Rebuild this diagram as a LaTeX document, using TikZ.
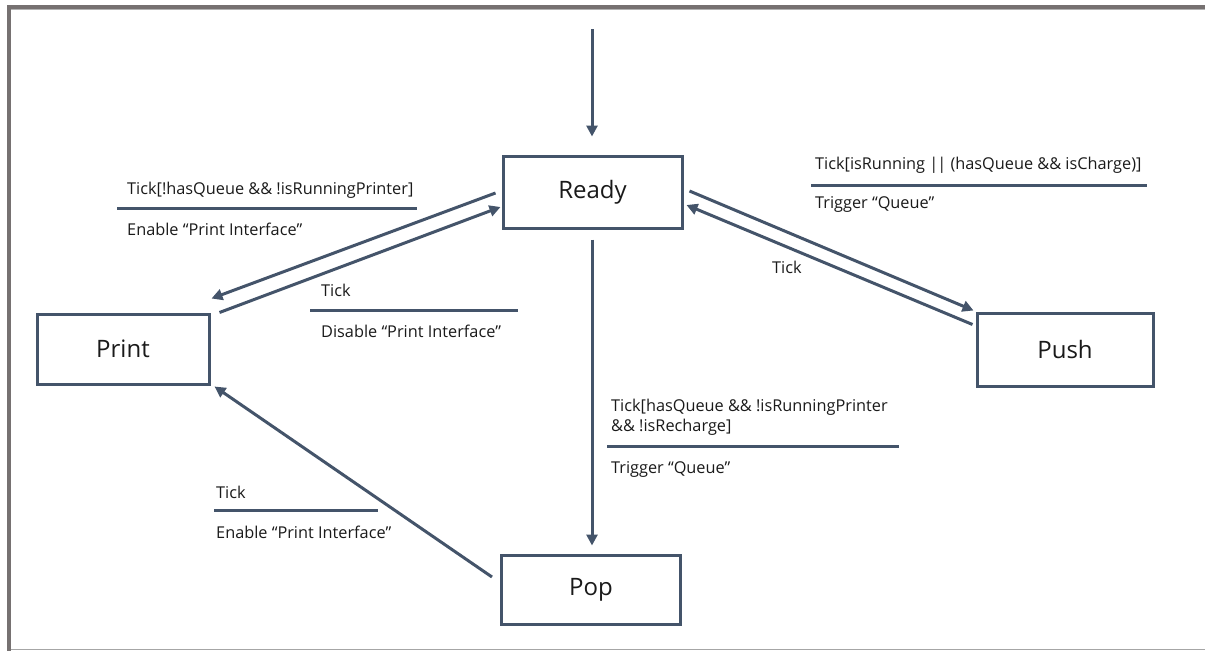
\documentclass[tikz,border=0pt]{standalone}
\usepackage{fontspec}
\setmainfont{Open Sans}
\usetikzlibrary{arrows.meta,calc}
\definecolor{edgec}{HTML}{44546A}
\definecolor{framec}{HTML}{767171}
\definecolor{textc}{HTML}{1A1A1A}
\tikzset{
  state/.style={draw=edgec, line width=3pt, fill=white, inner sep=0pt,
    font=\fontsize{24}{28}\selectfont, text=textc},
  conn/.style={draw=edgec, line width=3pt,
    -{Triangle[length=11pt,width=11pt]}, shorten >=0pt},
  lbl/.style={anchor=west, inner sep=0pt, font=\fontsize{16.3}{19}\selectfont, text=textc},
  bar/.style={draw=edgec, line width=3pt},
}
\begin{document}
\begin{tikzpicture}[x=1pt,y=-1pt]
\useasboundingbox (0,0) rectangle (1205,651);
% frame
\fill[framec] (7,5) rectangle (1205,9);
\fill[framec] (7,5) rectangle (11,651);
\draw[gray!60, line width=0.8pt] (11,9.8) -- (1205,9.8);
\draw[gray!70, line width=1.8pt] (11,649.5) -- (1205,649.5);

% states
\node[state, minimum width=179pt, minimum height=72pt] (ready) at (592.5,192) {Ready};
\node[state, minimum width=172pt, minimum height=70pt] (print) at (123,349) {Print};
\node[state, minimum width=176pt, minimum height=73pt] (push) at (1065,349.5) {Push};
\node[state, minimum width=179pt, minimum height=69pt] (pop) at (591,589.5) {Pop};

% initial transition
\coordinate (init) at (592,29);
\draw[conn] (init) -- ($(ready.north)+(-0.5,-18)$);

% Ready <-> Print
\draw[conn] ($(ready.west)+(-6,1)$) -- ($(print.north east)+(1,-14)$);
\draw[conn] ($(print.north east)+(9,0)$) -- ($(ready.west)+(-1,15)$);

% Ready <-> Push
\draw[conn] ($(ready.east)+(6,-1)$) -- ($(push.north west)+(-2,-1)$);
\draw[conn] ($(push.north west)+(-3,13)$) -- ($(ready.east)+(3,13)$);

% Ready -> Pop
\draw[conn] ($(ready.south)+(-0.5,10)$) -- ($(pop.north)+(1,-8)$);

% Pop -> Print
\draw[conn] ($(pop.west)+(-8,-12.5)$) -- ($(print.south east)+(4,1)$);

% labels: Ready -> Print
\node[lbl] (l1a) at (127,190) {Tick[!hasQueue \&\& !isRunningPrinter]};
\coordinate (b1s) at (117,208); \coordinate (b1e) at (417,208);
\draw[bar] (b1s) -- (b1e);
\node[lbl] (l1b) at (127,229) {Enable “Print Interface”};

% labels: Print -> Ready
\node[lbl] (l2a) at (321,290) {Tick};
\coordinate (b2s) at (310,310); \coordinate (b2e) at (518,310);
\draw[bar] (b2s) -- (b2e);
\node[lbl] (l2b) at (321,331) {Disable “Print Interface”};

% labels: Ready -> Push
\node[lbl] (l3a) at (815,165) {Tick[isRunning |\kern-1pt| (hasQueue \&\& isCharge)]};
\coordinate (b3s) at (811,185); \coordinate (b3e) at (1147,185);
\draw[bar] (b3s) -- (b3e);
\node[lbl] (l3b) at (815,204) {Trigger “Queue”};

% labels: Push -> Ready
\node[lbl] (l4) at (772,267) {Tick};

% labels: Ready -> Pop
\node[lbl] (l5a) at (611,407) {Tick[hasQueue \&\& !isRunningPrinter};
\node[lbl] (l5b) at (611,427) {\&\& !isRecharge]};
\coordinate (b5s) at (607,446); \coordinate (b5e) at (899,446);
\draw[bar] (b5s) -- (b5e);
\node[lbl] (l5c) at (611,469) {Trigger “Queue”};

% labels: Pop -> Print
\node[lbl] (l6a) at (216,492) {Tick};
\coordinate (b6s) at (214,510); \coordinate (b6e) at (378,510);
\draw[bar] (b6s) -- (b6e);
\node[lbl] (l6b) at (216,532) {Enable “Print Interface”};
\end{tikzpicture}
\end{document}
